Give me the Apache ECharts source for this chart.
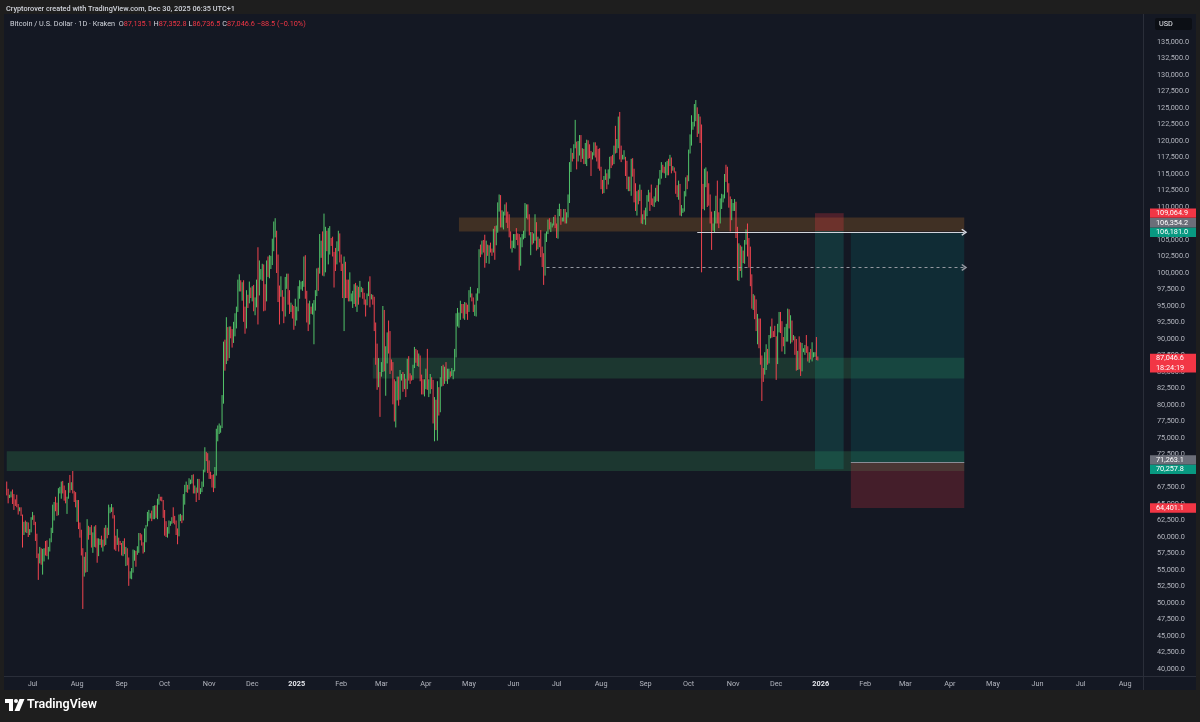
<!DOCTYPE html>
<html><head><meta charset="utf-8">
<script src="https://cdn.jsdelivr.net/npm/echarts@6/dist/echarts.min.js"></script>
<style>html,body{margin:0;padding:0;background:#1e1e1e;}#c{width:1200px;height:722px;}</style>
</head><body><div id="c"></div>
<script>
// Daily candles, rows = [open, high, low, close] in thousands of USD
const jun24 = [[68.2,68.4,66.3,66.8],[66.8,67.3,65.1,66.0],[66.0,66.4,65.9,66.2],[66.2,66.9,66.0,66.6],[66.6,67.2,65.0,66.5],[66.5,66.5,64.1,65.2],[65.2,65.7,64.7,65.0],[65.0,66.4,64.5,64.8],[64.8,65.0,63.4,64.1],[64.1,64.5,63.9,64.3],[64.3,64.5,63.2,63.2],[63.2,63.4,58.4,60.3],[60.3,62.3,60.3,61.8],[61.8,62.5,60.7,60.8],[60.8,62.3,60.6,61.6],[61.6,62.2,60.0,60.3],[60.3,61.2,60.3,60.9],[60.9,63.0,60.7,62.7]];
const jul24 = [[62.7,63.8,62.6,62.9],[62.9,63.3,61.8,62.1],[62.1,62.3,59.4,60.2],[60.2,60.5,56.8,57.0],[57.0,57.5,53.5,56.7],[56.7,58.5,56.0,58.2],[58.2,58.3,55.8,55.9],[55.9,58.2,54.3,56.7],[56.7,58.3,56.3,57.9],[57.9,59.4,57.2,57.7],[57.7,59.5,57.1,57.3],[57.3,58.5,56.6,57.9],[57.9,59.8,57.8,59.2],[59.2,61.4,59.2,60.8],[60.8,64.9,60.6,64.8],[64.8,65.3,62.5,65.1],[65.1,66.1,63.9,64.1],[64.1,65.2,63.2,63.9],[63.9,67.4,63.3,66.7],[66.7,67.6,66.6,67.2],[67.2,68.4,65.8,68.2],[68.2,68.5,66.6,67.6],[67.6,67.8,65.5,65.9],[65.9,67.1,65.1,65.4],[65.4,66.1,63.5,65.8],[65.8,68.2,65.8,68.0],[68.0,69.4,66.7,67.9],[67.9,68.3,67.1,68.2],[68.2,70.0,66.6,66.8],[66.8,67.0,65.3,66.2],[66.2,66.8,64.5,64.6]];
const aug24 = [[64.6,65.6,62.3,65.4],[65.4,65.6,61.2,61.4],[61.4,62.2,59.9,60.7],[60.7,61.1,57.2,58.1],[58.1,58.3,49.1,54.0],[54.0,57.0,54.0,56.0],[56.0,57.7,54.6,55.1],[55.1,62.7,54.7,61.7],[61.7,61.7,59.6,60.9],[60.9,61.5,60.3,60.9],[60.9,61.8,58.4,58.7],[58.7,60.7,57.6,59.4],[59.4,61.6,58.5,60.6],[60.6,61.8,58.4,58.7],[58.7,59.8,56.1,57.5],[57.5,59.8,57.1,58.9],[58.9,59.7,58.8,59.5],[59.5,60.2,58.4,58.4],[58.4,59.6,57.8,59.5],[59.5,61.4,58.6,59.0],[59.0,61.8,58.8,61.2],[61.2,61.4,59.8,60.4],[60.4,64.9,60.3,64.1],[64.1,64.5,63.6,64.2],[64.2,65.0,63.8,64.2],[64.2,64.5,62.8,62.9],[62.9,63.3,58.1,59.5],[59.5,60.2,57.9,59.0],[59.0,61.2,58.8,59.4],[59.4,59.9,57.8,59.1],[59.1,59.4,58.8,58.9]];
const sep24 = [[58.9,59.1,57.2,57.3],[57.3,59.4,57.1,59.1],[59.1,59.8,57.4,57.5],[57.5,58.5,55.6,58.0],[58.0,58.3,55.7,56.2],[56.2,56.9,52.6,53.9],[53.9,54.8,53.7,54.2],[54.2,55.3,53.6,54.9],[54.9,58.1,54.6,57.1],[57.1,58.0,56.4,57.7],[57.7,57.9,55.5,57.4],[57.4,58.6,57.3,58.2],[58.2,60.6,57.6,60.6],[60.6,60.6,59.5,60.0],[60.0,60.4,58.7,59.2],[59.2,59.2,57.5,58.2],[58.2,61.3,57.7,60.3],[60.3,61.8,59.2,61.8],[61.8,63.8,61.6,62.9],[62.9,64.1,62.4,63.3],[63.3,63.6,62.8,63.6],[63.6,64.0,62.4,63.3],[63.3,64.7,62.7,63.6],[63.6,64.8,62.7,64.3],[64.3,64.8,62.9,63.2],[63.2,65.8,62.7,65.2],[65.2,66.5,64.9,65.9],[65.9,66.1,65.5,65.8],[65.8,66.1,65.4,65.6],[65.6,65.6,62.9,63.3]];
const oct24 = [[63.3,64.1,60.2,60.8],[60.8,62.4,60.0,60.6],[60.6,61.5,59.9,60.8],[60.8,62.5,60.5,62.1],[62.1,62.4,61.7,62.1],[62.1,63.0,62.0,62.8],[62.8,64.5,62.1,62.2],[62.2,63.2,61.9,62.1],[62.1,62.5,60.3,60.6],[60.6,61.3,58.9,60.3],[60.3,63.4,60.1,62.4],[62.4,63.5,62.4,63.2],[63.2,63.3,62.1,62.9],[62.9,66.5,62.5,66.1],[66.1,67.9,64.9,67.0],[67.0,68.4,66.8,67.6],[67.6,67.9,66.7,67.4],[67.4,68.9,67.2,68.4],[68.4,68.7,68.0,68.4],[68.4,69.4,68.1,69.0],[69.0,69.5,66.6,67.4],[67.4,67.8,66.6,67.4],[67.4,67.5,65.3,66.7],[66.7,68.8,66.7,68.2],[68.2,68.8,65.6,66.6],[66.6,67.4,66.5,67.0],[67.0,68.4,66.8,68.0],[68.0,70.2,67.6,69.9],[69.9,73.6,69.8,72.7],[72.7,72.9,71.5,72.3],[72.3,72.7,69.7,70.2]];
const nov24 = [[70.2,71.6,68.8,69.5],[69.5,69.9,68.8,69.3],[69.3,69.4,67.5,68.7],[68.7,69.5,66.8,67.8],[67.8,70.6,67.4,69.4],[69.4,76.4,69.3,75.6],[75.6,76.9,74.5,75.9],[75.9,77.2,75.6,76.5],[76.5,76.9,75.8,76.7],[76.7,81.5,76.5,80.4],[80.4,89.6,80.2,88.7],[88.7,89.9,85.2,87.9],[87.9,93.3,86.2,90.5],[90.5,91.8,86.7,87.3],[87.3,91.9,87.1,91.0],[91.0,91.9,90.1,90.6],[90.6,91.5,88.7,89.8],[89.8,92.6,89.4,90.5],[90.5,93.9,90.4,92.3],[92.3,94.9,91.6,94.3],[94.3,99.0,94.1,98.3],[98.3,99.8,97.2,98.9],[98.9,98.9,97.2,97.8],[97.8,98.6,95.8,98.0],[98.0,98.9,92.6,93.0],[93.0,94.9,90.8,91.9],[91.9,97.4,91.6,95.9],[95.9,96.7,94.7,95.6],[95.6,98.7,95.4,97.5],[97.5,97.8,96.2,96.4]];
const dec24 = [[96.4,98.0,95.7,97.2],[97.2,98.2,94.2,95.8],[95.8,96.3,93.6,96.0],[96.0,99.0,94.8,98.8],[98.8,103.9,92.2,97.0],[97.0,101.9,96.6,99.8],[99.8,100.6,99.0,99.9],[99.9,101.4,98.8,101.2],[101.2,101.3,94.2,97.3],[97.3,98.3,94.3,96.6],[96.6,101.9,95.7,101.1],[101.1,102.5,99.4,100.0],[100.0,102.7,99.2,101.4],[101.4,102.6,100.6,101.4],[101.4,105.2,101.2,104.3],[104.3,107.8,103.3,106.0],[106.0,108.3,105.4,106.1],[106.1,106.4,100.0,100.2],[100.2,102.8,95.6,97.5],[97.5,98.1,92.2,97.2],[97.2,99.5,96.4,97.2],[97.2,97.4,94.2,95.2],[95.2,96.4,92.4,94.8],[94.8,99.4,93.4,98.7],[98.7,99.9,97.6,99.4],[99.4,99.9,95.2,95.8],[95.8,97.4,93.8,94.2],[94.2,95.5,94.1,95.2],[95.2,95.2,93.1,93.6],[93.6,95.0,91.4,92.6],[92.6,96.1,92.0,93.4]];
const jan25 = [[93.4,94.9,92.8,94.4],[94.4,98.0,94.2,96.9],[96.9,98.9,96.1,98.1],[98.1,98.7,97.5,98.2],[98.2,98.8,97.3,98.3],[98.3,102.5,97.9,102.1],[102.1,102.7,96.1,96.9],[96.9,97.3,92.5,95.0],[95.0,95.4,91.2,92.5],[92.5,95.8,92.2,94.7],[94.7,94.9,93.8,94.5],[94.5,95.4,93.7,94.5],[94.5,95.9,89.2,94.5],[94.5,97.4,94.3,96.5],[96.5,100.7,96.5,100.5],[100.5,100.8,97.3,99.9],[99.9,105.9,99.9,104.1],[104.1,104.9,102.3,104.4],[104.4,106.3,99.6,101.1],[101.1,109.0,99.5,102.0],[102.0,107.0,100.1,106.1],[106.1,106.4,103.3,103.7],[103.7,106.8,101.3,103.9],[103.9,107.1,102.8,104.8],[104.8,105.3,104.1,104.7],[104.7,105.5,102.5,102.6],[102.6,103.2,97.8,102.0],[102.0,103.8,100.3,101.3],[101.3,104.8,101.3,103.7],[103.7,106.4,103.3,104.7],[104.7,106.0,101.6,102.4]];
const feb25 = [[102.4,102.8,100.3,100.6],[100.6,101.4,96.2,97.7],[97.7,102.5,91.2,101.4],[101.4,101.7,96.2,97.9],[97.9,99.0,96.2,96.6],[96.6,99.0,95.7,96.5],[96.5,100.1,95.7,96.5],[96.5,96.9,95.7,96.5],[96.5,97.3,94.7,96.5],[96.5,98.3,95.3,97.4],[97.4,98.5,94.9,95.8],[95.8,98.1,94.1,97.8],[97.8,97.9,95.2,96.6],[96.6,98.8,96.3,97.5],[97.5,97.9,97.1,97.6],[97.6,97.7,96.1,96.1],[96.1,97.0,95.2,95.8],[95.8,96.0,93.4,95.5],[95.5,96.9,95.1,96.6],[96.6,98.7,96.5,98.3],[98.3,99.5,94.8,96.2],[96.2,96.8,96.0,96.6],[96.6,96.7,95.2,96.3],[96.3,96.4,91.2,91.5],[91.5,92.5,86.1,88.7],[88.7,89.3,82.3,84.3],[84.3,87.1,82.7,84.7],[84.7,85.0,78.2,84.4]];
const mar25 = [[84.4,86.5,84.3,86.0],[86.0,95.0,85.0,94.2],[94.2,94.4,85.1,86.1],[86.1,88.9,81.4,87.2],[87.2,91.0,86.3,90.6],[90.6,92.8,87.8,89.9],[89.9,91.2,84.7,86.7],[86.7,86.9,85.2,86.1],[86.1,86.5,80.1,80.7],[80.7,83.9,77.5,78.5],[78.5,83.6,76.6,82.9],[82.9,84.3,80.7,83.7],[83.7,84.3,79.9,81.1],[81.1,85.3,80.8,83.9],[83.9,84.7,83.7,84.3],[84.3,85.0,82.0,82.6],[82.6,84.7,82.4,84.0],[84.0,84.0,81.2,82.7],[82.7,87.0,82.4,86.8],[86.8,87.4,83.7,84.2],[84.2,84.8,83.2,84.0],[84.0,84.5,83.7,83.8],[83.8,86.1,83.8,86.1],[86.1,88.8,85.6,87.5],[87.5,88.5,86.4,87.4],[87.4,88.3,85.9,86.9],[86.9,87.8,85.8,87.2],[87.2,87.5,83.6,84.4],[84.4,84.6,81.6,82.6],[82.6,83.9,81.6,82.3],[82.3,83.9,81.3,82.5]];
const apr25 = [[82.5,85.5,82.4,85.1],[85.1,88.5,82.3,82.5],[82.5,83.9,81.2,83.1],[83.1,84.7,81.7,83.8],[83.8,84.2,82.4,83.5],[83.5,83.8,77.2,78.2],[78.2,81.2,74.5,79.2],[79.2,80.8,76.2,76.3],[76.3,83.6,74.6,82.6],[82.6,82.7,78.4,79.6],[79.6,84.2,78.9,83.4],[83.4,85.9,82.8,85.3],[85.3,86.1,82.9,83.7],[83.7,85.8,83.2,84.5],[84.5,86.5,83.6,83.6],[83.6,85.5,83.2,84.0],[84.0,85.5,83.9,84.9],[84.9,85.1,84.2,84.4],[84.4,85.6,84.4,85.0],[85.0,85.3,83.9,85.1],[85.1,88.5,85.1,87.5],[87.5,93.9,87.2,93.4],[93.4,94.7,91.9,93.7],[93.7,94.0,91.7,93.9],[93.9,95.8,92.9,94.7],[94.7,95.3,93.9,94.6],[94.6,95.3,93.1,93.8],[93.8,95.6,92.9,95.0],[95.0,95.5,93.8,94.3],[94.3,95.2,92.9,94.2]];
const may25 = [[94.2,97.4,94.1,96.5],[96.5,97.9,96.3,96.9],[96.9,96.9,95.7,95.9],[95.9,96.3,94.1,94.3],[94.3,95.2,93.5,94.7],[94.7,96.9,93.4,96.8],[96.8,97.7,95.8,97.0],[97.0,103.6,96.9,103.2],[103.2,104.3,102.4,102.9],[102.9,104.9,102.8,104.6],[104.6,105.0,103.1,104.1],[104.1,105.8,100.8,102.7],[102.7,104.9,101.5,104.1],[104.1,104.3,102.6,103.5],[103.5,104.2,101.4,103.7],[103.7,104.6,103.1,103.5],[103.5,103.7,102.6,103.1],[103.1,106.7,103.1,106.4],[106.4,107.1,102.0,105.5],[105.5,107.2,104.2,106.8],[106.8,110.7,106.1,109.6],[109.6,111.9,109.3,111.7],[111.7,111.8,106.9,107.3],[107.3,109.5,106.9,107.8],[107.8,109.3,106.6,109.0],[109.0,110.4,108.7,109.4],[109.4,110.7,107.6,108.9],[108.9,109.3,106.8,107.8],[107.8,108.9,105.4,105.6],[105.6,106.3,103.7,103.9],[103.9,104.9,103.1,104.6]];
const jun25 = [[104.6,105.9,103.8,105.7],[105.7,105.9,103.7,105.8],[105.8,106.8,105.0,105.4],[105.4,106.0,104.2,104.7],[104.7,105.9,100.4,101.5],[101.5,105.4,101.1,104.3],[104.3,105.9,103.9,105.6],[105.6,106.4,105.1,105.7],[105.7,110.6,105.3,110.2],[110.2,110.4,108.3,110.2],[110.2,110.4,108.1,108.6],[108.6,108.9,105.7,105.7],[105.7,106.2,102.7,106.0],[106.0,106.2,104.3,105.4],[105.4,106.0,104.5,105.6],[105.6,108.9,104.9,106.8],[106.8,107.7,103.4,104.5],[104.5,105.5,103.6,104.8],[104.8,105.2,103.9,104.6],[104.6,106.5,102.4,103.3],[103.3,104.0,100.9,102.2],[102.2,103.0,98.2,100.9],[100.9,106.0,99.6,105.4],[105.4,106.3,104.7,106.0],[106.0,108.1,105.9,107.3],[107.3,108.3,106.6,106.9],[106.9,107.7,106.2,107.1],[107.1,107.5,106.9,107.3],[107.3,108.5,107.2,108.3],[108.3,108.8,106.8,107.1]];
const jul25 = [[107.1,107.5,105.3,105.7],[105.7,109.7,105.2,108.8],[108.8,110.5,108.6,109.6],[109.6,109.7,107.3,107.9],[107.9,108.4,107.8,108.2],[108.2,109.7,107.8,109.2],[109.2,109.7,107.5,108.2],[108.2,109.2,107.5,108.9],[108.9,111.9,108.4,111.3],[111.3,116.8,110.6,115.9],[115.9,118.9,115.3,117.5],[117.5,118.2,116.9,117.4],[117.4,119.5,117.3,119.1],[119.1,123.2,118.9,119.8],[119.8,119.9,115.7,117.7],[117.7,120.0,116.9,118.7],[118.7,120.9,117.8,119.3],[119.3,120.9,116.8,117.9],[117.9,118.9,117.3,117.9],[117.9,118.8,116.5,117.3],[117.3,119.7,116.5,117.4],[117.4,120.2,116.2,119.9],[119.9,120.1,117.3,118.7],[118.7,119.5,117.4,118.3],[118.3,118.5,114.7,117.6],[117.6,118.3,117.2,117.9],[117.9,119.8,117.8,119.4],[119.4,119.8,117.5,118.0],[118.0,119.3,116.9,117.9],[117.9,118.8,115.8,117.8],[117.8,118.9,115.5,115.7]];
const aug25 = [[115.7,116.1,112.7,113.3],[113.3,114.1,112.0,112.6],[112.6,114.7,112.1,114.2],[114.2,115.7,114.1,115.0],[115.0,115.1,112.7,114.1],[114.1,115.7,113.4,115.0],[115.0,117.6,114.3,117.5],[117.5,117.7,115.9,116.7],[116.7,117.9,116.3,116.5],[116.5,119.3,116.5,119.3],[119.3,122.3,118.1,118.7],[118.7,120.3,118.2,120.2],[120.2,123.7,118.9,123.3],[123.3,124.4,117.2,118.4],[118.4,119.3,116.8,117.4],[117.4,117.9,117.2,117.5],[117.5,118.6,117.2,117.5],[117.5,117.6,114.7,116.3],[116.3,117.0,112.7,112.9],[112.9,114.6,112.4,114.3],[114.3,114.6,112.4,112.5],[112.5,117.3,111.7,116.9],[116.9,117.4,114.6,115.4],[115.4,115.8,110.7,113.5],[113.5,113.6,109.4,110.1],[110.1,112.4,108.7,111.8],[111.8,112.6,110.4,111.3],[111.3,113.4,110.9,112.6],[112.6,112.6,107.5,108.4],[108.4,108.9,107.4,108.8],[108.8,109.5,108.1,108.3]];
const sep25 = [[108.3,109.9,107.3,109.3],[109.3,111.8,108.6,111.3],[111.3,112.6,110.8,111.8],[111.8,112.2,109.4,110.8],[110.8,113.4,110.3,110.7],[110.7,111.3,110.1,110.2],[110.2,111.6,110.0,111.2],[111.2,112.9,110.7,112.1],[112.1,113.3,110.9,111.5],[111.5,114.3,110.8,113.9],[113.9,115.6,113.4,115.5],[115.5,116.8,114.3,116.1],[116.1,116.4,115.2,115.9],[115.9,116.1,115.1,115.3],[115.3,116.8,114.4,115.4],[115.4,117.0,114.8,116.8],[116.8,117.3,114.8,116.5],[116.5,117.9,116.2,117.1],[117.1,117.5,115.1,115.7],[115.7,116.2,115.5,115.7],[115.7,116.0,115.2,115.3],[115.3,115.4,112.0,112.8],[112.8,113.3,111.5,112.0],[112.0,114.0,111.1,113.3],[113.3,113.5,108.7,109.0],[109.0,110.3,108.6,109.7],[109.7,109.8,109.1,109.7],[109.7,112.4,109.3,112.1],[112.1,114.5,111.6,114.4],[114.4,114.8,112.7,114.1]];
const oct25 = [[114.1,118.7,113.9,118.6],[118.6,121.0,118.1,120.6],[120.6,123.9,119.3,122.3],[122.3,122.9,121.7,122.4],[122.4,125.6,122.2,123.5],[123.5,126.2,123.0,124.8],[124.8,125.1,120.6,121.4],[121.4,124.1,121.1,123.3],[123.3,123.7,119.7,121.7],[121.7,122.5,100.1,113.2],[113.2,113.5,109.7,110.7],[110.7,115.8,109.5,115.2],[115.2,116.0,113.0,115.3],[115.3,115.4,110.0,113.1],[113.1,113.6,110.2,110.8],[110.8,111.9,107.5,108.2],[108.2,109.3,103.5,106.5],[106.5,107.5,106.4,107.2],[107.2,109.4,106.1,108.7],[108.7,111.7,107.5,110.6],[110.6,114.0,107.5,108.5],[108.5,109.2,106.8,107.6],[107.6,111.3,107.5,110.1],[110.1,112.0,109.7,111.0],[111.0,111.9,110.7,111.6],[111.6,115.0,111.3,114.5],[114.5,116.4,113.8,114.1],[114.1,116.1,112.2,112.9],[112.9,113.6,109.9,110.0],[110.0,111.6,106.3,108.3],[108.3,111.2,108.0,109.6]];
const nov25 = [[109.6,110.6,109.4,110.1],[110.1,111.2,109.4,110.6],[110.6,110.8,105.3,106.5],[106.5,107.0,98.9,101.6],[101.6,104.5,98.8,103.9],[103.9,104.2,100.3,101.3],[101.3,104.0,99.3,103.3],[103.3,103.4,101.5,102.3],[102.3,105.0,101.4,104.7],[104.7,106.6,104.3,106.0],[106.0,107.5,102.5,103.1],[103.1,105.3,100.8,101.6],[101.6,104.0,98.0,99.7],[99.7,99.8,94.6,94.4],[94.4,96.8,94.4,95.5],[95.5,96.6,93.0,94.2],[94.2,96.0,91.2,92.2],[92.2,93.8,89.2,92.9],[92.9,93.1,88.6,91.5],[91.5,93.1,86.1,86.6],[86.6,87.5,80.6,85.1],[85.1,85.6,83.5,84.7],[84.7,88.0,84.6,86.8],[86.8,89.2,85.3,88.3],[88.3,88.5,86.1,87.3],[87.3,90.6,86.3,90.5],[90.5,91.9,90.1,91.3],[91.3,93.1,90.2,90.9],[90.9,91.2,90.3,90.8],[90.8,92.0,90.3,90.4]];
const dec25 = [[90.4,90.4,83.8,86.3],[86.3,92.3,86.2,91.3],[91.3,94.1,91.0,93.5],[93.5,94.1,90.9,92.1],[92.1,92.7,88.1,89.4],[89.4,90.3,88.9,89.3],[89.3,91.8,87.7,90.4],[90.4,92.3,89.6,90.6],[90.6,94.6,89.6,92.7],[92.7,94.5,91.6,92.0],[92.0,93.6,89.3,92.5],[92.5,92.8,89.5,90.3],[90.3,90.6,89.8,90.3],[90.3,90.4,87.6,88.2],[88.2,90.0,85.2,86.4],[86.4,88.2,85.3,87.8],[87.8,90.4,85.4,86.1],[86.1,89.5,84.4,85.5],[85.5,89.4,85.1,88.1],[88.1,88.6,88.0,88.3],[88.3,89.1,87.6,88.6],[88.6,90.6,87.9,88.5],[88.5,88.9,86.6,87.6],[87.6,88.0,86.4,87.7],[87.7,88.5,86.9,87.2],[87.2,89.5,86.6,87.3],[87.3,88.0,87.2,87.8],[87.8,88.0,87.3,87.8],[87.8,90.3,86.8,87.1351],[87.1351,87.3528,86.7365,87.0466]];

const monthBlocks = [jun24, jul24, aug24, sep24, oct24, nov24, dec24, jan25, feb25, mar25, apr25, may25, jun25, jul25, aug25, sep25, oct25, nov25, dec25];

// price axis tick labels
const yTicks = [40000,42500,45000,47500,50000,52500,55000,57500,60000,62500,65000,67500,70000,72500,75000,77500,80000,82500,85000,87500,90000,92500,95000,97500,100000,102500,105000,107500,110000,112500,115000,117500,120000,122500,125000,127500,130000,132500,135000];
const monthNames = ['Jan','Feb','Mar','Apr','May','Jun','Jul','Aug','Sep','Oct','Nov','Dec'];

// zones and position tools
const zoneSupply = {from:'2025-04-24', to:'2026-04-11', top:108400, bottom:106300};
const zoneMid = {from:'2025-02-23', to:'2026-04-11', top:87150, bottom:84000};
const zoneLow = {from:'2024-06-13', to:'2026-04-11', top:73000, bottom:70000};
const shortPos = {from:'2025-12-28', to:'2026-01-17', stop:109064.9, entry:106354.2, target:70257.8};
const longPos = {from:'2026-01-22', to:'2026-04-11', stop:64401.1, entry:71263.1, target:106181.0};
const hLine = {from:'2025-10-07', to:'2026-04-11', value:106181.0};
const dashLine = {from:'2025-06-24', to:'2026-04-11', value:100850};

const priceTags = [
  {v:109064.9, text:'109,064.9', bg:'#f23645'},
  {v:106354.2, text:'106,354.2', bg:'#6b6e79'},
  {v:106181.0, text:'106,181.0', bg:'#089981'},
  {v:87046.6, text:'87,046.6', sub:'18:24:19', bg:'#f23645'},
  {v:71263.1, text:'71,263.1', bg:'#6b6e79'},
  {v:70257.8, text:'70,257.8', bg:'#089981'},
  {v:64401.1, text:'64,401.1', bg:'#f23645'}
];

// calendar categories
const cats = [];
const t0 = Date.UTC(2024,5,13), t1 = Date.UTC(2026,7,13);
for (let t = t0; t <= t1; t += 86400000) cats.push(new Date(t).toISOString().slice(0,10));

const rows = [].concat(...monthBlocks);
const candleData = cats.map((c,i) => i < rows.length
  ? [rows[i][0]*1000, rows[i][3]*1000, rows[i][2]*1000, rows[i][1]*1000] : '-');

const FONT = 'Roboto, "Noto Sans", sans-serif';
const fmt = v => v.toLocaleString('en-US',{minimumFractionDigits:1, maximumFractionDigits:1});
const area = (from,to,y1,y2,color) => [{xAxis:from, yAxis:y1, itemStyle:{color}}, {xAxis:to, yAxis:y2}];
const chevron = 'path://M0,10 L10,0 L20,10 L17,12 L10,5 L3,12 Z';
const UP = '#52c46a', DOWN = '#f0444f';

const option = {
  backgroundColor:'#1e1e1e',
  animation:false,
  textStyle:{fontFamily:FONT},
  grid:{left:6, top:15, width:1137, height:661},
  xAxis:{
    type:'category', data:cats, boundaryGap:true,
    axisLine:{show:false}, axisTick:{show:false}, splitLine:{show:false},
    axisLabel:{
      interval:(i,v) => v.slice(8) === '01',
      formatter:v => { const m = +v.slice(5,7); return m === 1 ? '{y|' + v.slice(0,4) + '}' : monthNames[m-1]; },
      color:'#b2b5be', fontSize:7.3, margin:5, fontFamily:FONT,
      rich:{y:{fontWeight:'bold', color:'#e6e8ee', fontSize:7.3, fontFamily:FONT}}
    }
  },
  yAxis:{
    type:'value', position:'right', min:38940, max:139090, scale:true,
    axisLine:{show:false}, axisTick:{show:false}, splitLine:{show:false},
    axisLabel:{customValues:yTicks, formatter:v => fmt(v), color:'#b2b5be', fontSize:7.3, margin:14, fontFamily:FONT}
  },
  graphic:[
    {type:'rect', z:-1, shape:{x:4, y:14, width:1192, height:676}, style:{fill:'#141823'}},
    {type:'line', z:1, shape:{x1:1143.5, y1:14, x2:1143.5, y2:690}, style:{stroke:'#2a2e39', lineWidth:1}},
    {type:'line', z:1, shape:{x1:4, y1:676.5, x2:1196, y2:676.5}, style:{stroke:'#2a2e39', lineWidth:1}},
    {type:'text', z:5, x:6, y:9, style:{text:'Cryptorover created with TradingView.com, Dec 30, 2025 06:35 UTC+1', fill:'#d1d4dc', font:'500 7.3px ' + FONT, verticalAlign:'middle'}},
    {type:'text', z:5, x:10, y:24, style:{
      text:'{a|Bitcoin / U.S. Dollar · 1D · Kraken}  {a|O}{r|87,135.1} {a|H}{r|87,352.8} {a|L}{r|86,736.5} {a|C}{r|87,046.6} {r|−88.5 (−0.10%)}',
      verticalAlign:'middle', font:'7.3px ' + FONT,
      rich:{a:{fill:'#d1d4dc', fontSize:7.3, fontFamily:FONT}, r:{fill:'#f23645', fontSize:7.3, fontFamily:FONT}}
    }},
    {type:'rect', z:5, shape:{x:1155, y:18, width:37, height:12, r:2}, style:{fill:'#0c0f15'}},
    {type:'text', z:6, x:1159, y:24, style:{text:'USD', fill:'#e6e8ee', font:'7.3px ' + FONT, verticalAlign:'middle'}},
    // TradingView logo
    {type:'rect', z:5, shape:{x:5, y:699, width:8, height:4}, style:{fill:'#ffffff'}},
    {type:'rect', z:5, shape:{x:9, y:699, width:4, height:12}, style:{fill:'#ffffff'}},
    {type:'circle', z:5, shape:{cx:16, cy:701, r:2}, style:{fill:'#ffffff'}},
    {type:'polygon', z:5, shape:{points:[[19.5,699],[24.5,699],[19.5,711],[14.5,711]]}, style:{fill:'#ffffff'}},
    {type:'text', z:5, x:27, y:705, style:{text:'TradingView', fill:'#ffffff', font:'600 12.5px ' + FONT, verticalAlign:'middle'}}
  ],
  series:[
    {
      type:'line', data:[], z:1, silent:true,
      markArea:{silent:true, label:{show:false}, data:[
        area(zoneSupply.from, zoneSupply.to, zoneSupply.top, zoneSupply.bottom, 'rgba(255,155,40,0.19)'),
        area(zoneMid.from, zoneMid.to, zoneMid.top, zoneMid.bottom, 'rgba(60,180,100,0.2)'),
        area(zoneLow.from, zoneLow.to, zoneLow.top, zoneLow.bottom, 'rgba(60,180,100,0.2)'),
        area(shortPos.from, shortPos.to, shortPos.stop, shortPos.entry, 'rgba(242,54,69,0.25)'),
        area(shortPos.from, shortPos.to, shortPos.entry, shortPos.target, 'rgba(20,170,150,0.2)'),
        area(longPos.from, longPos.to, longPos.target, longPos.entry, 'rgba(0,150,150,0.16)'),
        area(longPos.from, longPos.to, longPos.entry, longPos.stop, 'rgba(242,54,69,0.22)')
      ]}
    },
    {
      type:'candlestick', name:'BTCUSD', data:candleData, z:3, barWidth:1.3,
      itemStyle:{color:UP, color0:DOWN, borderColor:UP, borderColor0:DOWN, borderWidth:1}
    },
    {
      type:'line', data:[], z:5, silent:true,
      markLine:{silent:true, label:{show:false}, symbolSize:[7,6], data:[
        [{coord:[hLine.from, hLine.value], symbol:'none', lineStyle:{color:'#d1d4dc', width:1, type:'solid'}}, {coord:[hLine.to, hLine.value], symbol:chevron}],
        [{coord:[dashLine.from, dashLine.value], symbol:'none', lineStyle:{color:'#9598a1', width:1, type:[3,3]}}, {coord:[dashLine.to, dashLine.value], symbol:chevron}],
        [{coord:[longPos.from, longPos.entry], symbol:'none', lineStyle:{color:'#8a8d96', width:1, type:'solid'}}, {coord:[longPos.to, longPos.entry], symbol:'none'}]
      ]}
    }
  ]
};

const chart = echarts.init(document.getElementById('c'));
chart.setOption(option);

// price tags on the price axis, computed from the y scale and de-overlapped
const H = 9.4;
const tags = priceTags.map(t => Object.assign({}, t, {y: chart.convertToPixel({yAxisIndex:0}, t.v)}));
tags.sort((a,b) => b.y - a.y);
for (let i = 1; i < tags.length; i++) {
  const lim = tags[i-1].y - H;
  if (tags[i].y > lim) tags[i].y = lim;
}
const tagEls = [];
tags.forEach(t => {
  tagEls.push({type:'rect', z:50, shape:{x:1150, y:t.y - H/2, width:46, height:t.sub ? 2*H : H}, style:{fill:t.bg}});
  tagEls.push({type:'text', z:51, x:1156, y:t.y, style:{text:t.text, fill:'#ffffff', font:'7.3px ' + FONT, verticalAlign:'middle'}});
  if (t.sub) tagEls.push({type:'text', z:51, x:1156, y:t.y + H, style:{text:t.sub, fill:'#ffffff', font:'7.3px ' + FONT, verticalAlign:'middle'}});
});
chart.setOption({graphic: option.graphic.concat(tagEls)}, {replaceMerge:['graphic']});
</script>
</body></html>
